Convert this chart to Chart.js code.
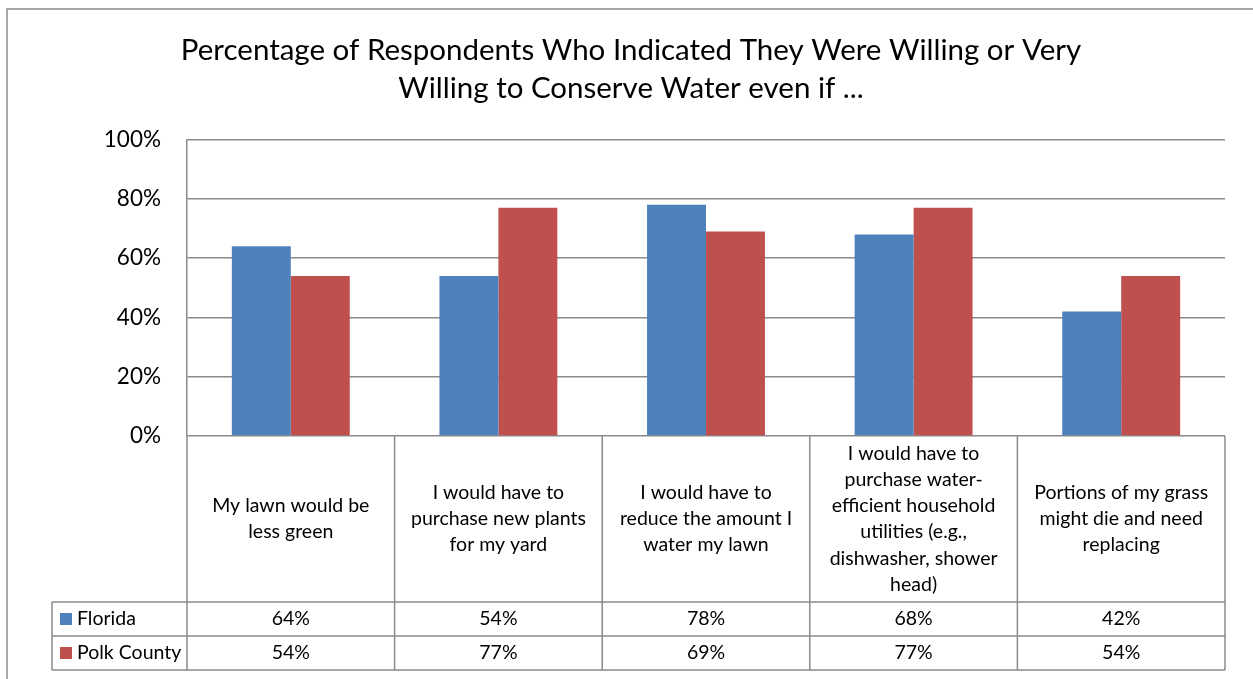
<!DOCTYPE html>
<html>
<head>
<meta charset="utf-8">
<script src="https://cdn.jsdelivr.net/npm/chart.js@4/dist/chart.umd.min.js"></script>
<style>
  body { margin: 0; background: #fff; }
  #wrap { width: 1253px; height: 679px; }
</style>
</head>
<body>
<div id="wrap"><canvas id="waterChart" width="1253" height="679"></canvas></div>
<script>
// categories (wrapped the way the original table cells wrap them)
var categories = [
  ["My lawn would be", "less green"],
  ["I would have to", "purchase new plants", "for my yard"],
  ["I would have to", "reduce the amount I", "water my lawn"],
  ["I would have to", "purchase water-", "efficient household", "utilities (e.g.,", "dishwasher, shower", "head)"],
  ["Portions of my grass", "might die and need", "replacing"]
];
var floridaValues = [64, 54, 78, 68, 42];
var polkValues = [54, 77, 69, 77, 54];
var seriesNames = ["Florida", "Polk County"];
var yTicks = [0, 20, 40, 60, 80, 100];

var FONT = "Lato, 'Open Sans', sans-serif";
var GRID = "#8a8a8a";

// draws the data table under the plot, the way Excel does it
var dataTablePlugin = {
  id: 'dataTable',
  afterDraw: function(chart) {
    var ctx = chart.ctx;
    var area = chart.chartArea;
    var x = chart.scales.x;
    var n = categories.length;
    var catW = (area.right - area.left) / n;
    var labelBottom = area.bottom + 166;
    var rowH = 34;
    var tableLeft = 52;

    ctx.save();
    ctx.strokeStyle = GRID;
    ctx.lineWidth = 1.5;

    // outer chart border
    ctx.strokeRect(7, 9, 1300, 720);

    ctx.beginPath();
    for (var r = 0; r < 3; r++) {
      var yy = labelBottom + r * rowH;
      ctx.moveTo(tableLeft, yy);
      ctx.lineTo(area.right, yy);
    }
    ctx.moveTo(tableLeft, labelBottom);
    ctx.lineTo(tableLeft, labelBottom + 2 * rowH);
    for (var i = 0; i <= n; i++) {
      var xx = area.left + i * catW;
      ctx.moveTo(xx, area.bottom);
      ctx.lineTo(xx, labelBottom + 2 * rowH);
    }
    ctx.stroke();

    ctx.fillStyle = '#000';
    ctx.textAlign = 'center';
    ctx.textBaseline = 'middle';
    ctx.font = "19.5px " + FONT;

    // category labels
    var lineH = 26.2;
    var midY = (area.bottom + labelBottom) / 2;
    categories.forEach(function(lines, i) {
      var cx = x.getPixelForValue(i);
      var startY = midY - (lines.length - 1) * lineH / 2;
      lines.forEach(function(t, j) {
        ctx.fillText(t, cx, startY + j * lineH);
      });
    });

    // value rows
    var rows = [floridaValues, polkValues];
    rows.forEach(function(vals, r) {
      var cy = labelBottom + r * rowH + rowH / 2;
      vals.forEach(function(v, i) {
        ctx.textAlign = 'center';
        ctx.fillText(v + '%', x.getPixelForValue(i), cy);
      });
      // legend key + series name
      ctx.fillStyle = chart.data.datasets[r].backgroundColor;
      ctx.fillRect(60, cy - 6, 12, 12);
      ctx.fillStyle = '#000';
      ctx.textAlign = 'left';
      ctx.fillText(seriesNames[r], 77, cy);
    });
    ctx.restore();
  }
};

var waterChart = new Chart(document.getElementById('waterChart'), {
  type: 'bar',
  data: {
    labels: categories.map(function(c) { return c.join(' '); }),
    datasets: [
      {
        label: seriesNames[0],
        data: floridaValues,
        backgroundColor: '#4F81BD',
        categoryPercentage: 0.568,
        barPercentage: 1.0
      },
      {
        label: seriesNames[1],
        data: polkValues,
        backgroundColor: '#C0504D',
        categoryPercentage: 0.568,
        barPercentage: 1.0
      }
    ]
  },
  options: {
    responsive: false,
    animation: false,
    layout: {
      padding: { left: 37, right: 28, top: 0, bottom: 243 }
    },
    plugins: {
      legend: { display: false },
      tooltip: { enabled: false },
      title: {
        display: true,
        text: ['Percentage of Respondents Who Indicated They Were Willing or Very', 'Willing to Conserve Water even if ...'],
        color: '#000',
        font: { family: FONT, size: 29.5, weight: 'normal', lineHeight: 1.28 },
        padding: { top: 32, bottom: 32 }
      }
    },
    scales: {
      x: {
        display: false
      },
      y: {
        min: 0,
        max: 100,
        afterFit: function(scale) { scale.width = 150; },
        afterBuildTicks: function(scale) {
          scale.ticks = yTicks.map(function(v) { return { value: v }; });
        },
        ticks: {
          color: '#000',
          padding: 26,
          font: { family: FONT, size: 22.5 },
          callback: function(v) { return v + '%'; }
        },
        grid: { color: GRID, lineWidth: 1.5, drawTicks: false },
        border: { display: true, color: GRID, width: 1.5 }
      }
    }
  },
  plugins: [dataTablePlugin]
});
</script>
</body>
</html>
